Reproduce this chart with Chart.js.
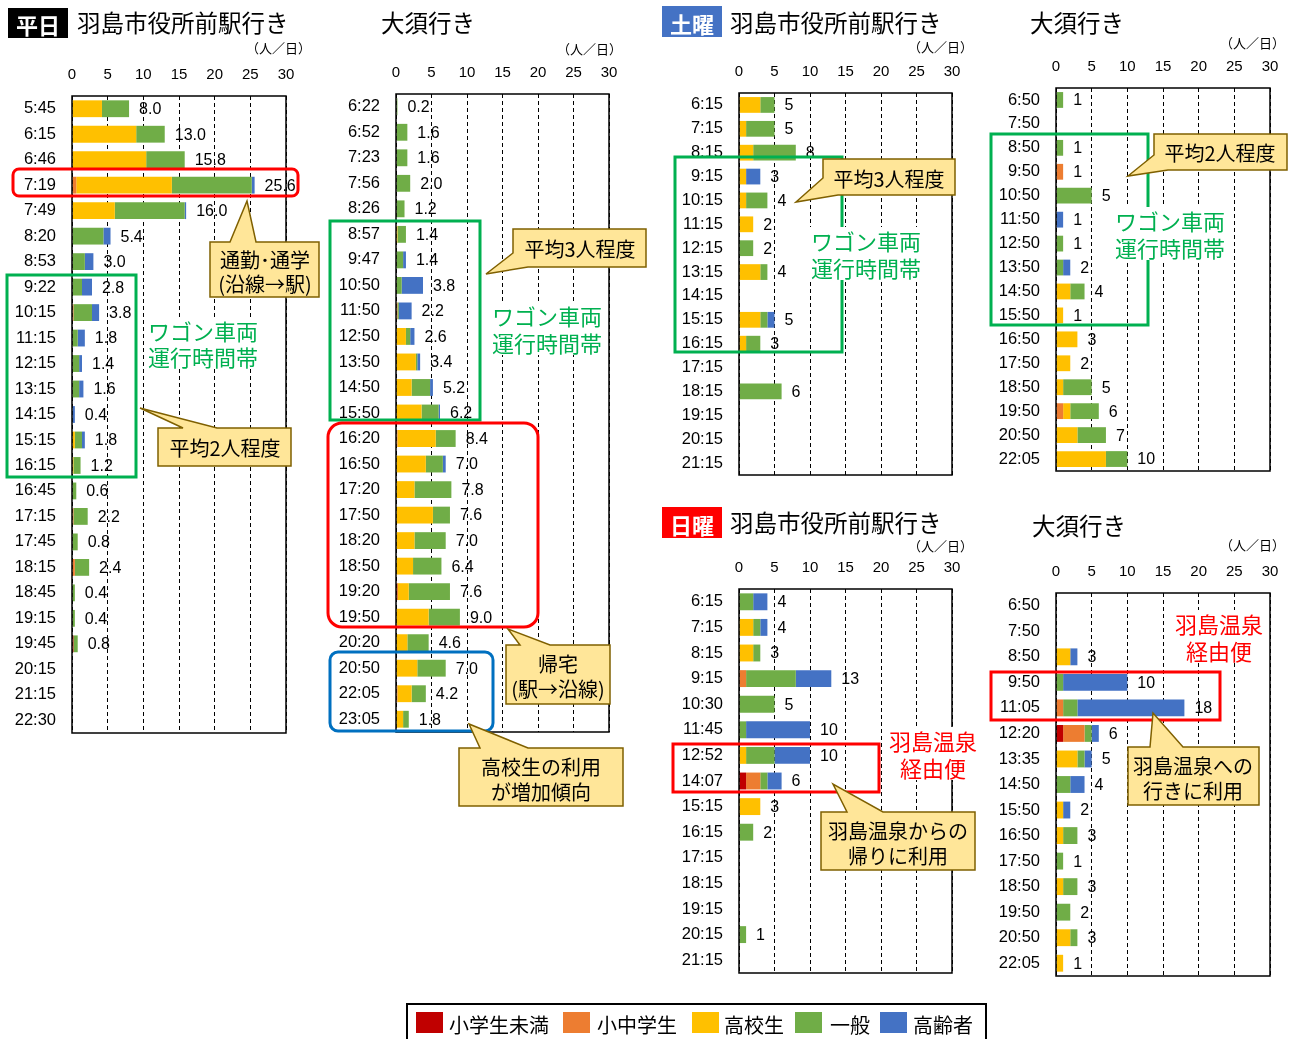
<!DOCTYPE html>
<html><head><meta charset="utf-8">
<script src="https://cdn.jsdelivr.net/npm/chart.js@4.4.1/dist/chart.umd.min.js"></script>
<style>
html,body{margin:0;padding:0;background:#fff;}
body{width:1293px;height:1039px;position:relative;overflow:hidden;font-family:'Noto Sans CJK JP',sans-serif;}
.cw{position:absolute;}
#ov{position:absolute;left:0;top:0;z-index:5;}
</style></head><body>
<svg id="ov" width="1293" height="1039" xmlns="http://www.w3.org/2000/svg"></svg>
<script>
// ---------------- DATA ----------------
const seriesNames = ['小学生未満','小中学生','高校生','一般','高齢者'];
const xTicks = [0,5,10,15,20,25,30];

// 平日 羽島市役所前駅行き
const wkHashimaLabels = ['5:45','6:15','6:46','7:19','7:49','8:20','8:53','9:22','10:15','11:15','12:15','13:15','14:15','15:15','16:15','16:45','17:15','17:45','18:15','18:45','19:15','19:45','20:15','21:15','22:30'];
const wkHashimaU6   = [0,0,0,0,0,0,0,0,0,0,0,0,0,0,0,0,0,0,0,0,0,0.2,0,0,0];
const wkHashimaStu  = [0,0,0,0.6,0,0,0,0,0.2,0,0,0,0,0,0,0,0.2,0,0.4,0,0,0,0,0,0];
const wkHashimaHigh = [4.2,9.0,10.4,13.4,6.0,0,0,0,0,0,0,0,0,0.4,0.2,0,0,0,0,0,0,0,0,0,0];
const wkHashimaGen  = [3.8,4.0,5.4,11.2,9.8,4.4,1.8,1.4,2.6,0.8,1.0,1.0,0,1.0,1.0,0.6,2.0,0.8,2.0,0.4,0.4,0.6,0,0,0];
const wkHashimaSen  = [0,0,0,0.4,0.2,1.0,1.2,1.4,1.0,1.0,0.4,0.6,0.4,0.4,0,0,0,0,0,0,0,0,0,0,0];

// 平日 大須行き
const wkOsuLabels = ['6:22','6:52','7:23','7:56','8:26','8:57','9:47','10:50','11:50','12:50','13:50','14:50','15:50','16:20','16:50','17:20','17:50','18:20','18:50','19:20','19:50','20:20','20:50','22:05','23:05'];
const wkOsuU6   = [0,0,0,0,0,0,0,0,0,0,0,0,0,0,0,0,0,0,0,0.2,0,0,0,0,0];
const wkOsuStu  = [0,0,0,0,0,0,0,0,0.2,0,0,0,0,0.2,0,0,0,0,0,0,0,0,0,0.2,0];
const wkOsuHigh = [0,0,0,0,0,0.2,0,0,0,1.4,2.8,2.2,3.6,5.4,4.2,2.6,5.2,2.6,2.4,1.6,4.6,1.6,3.0,2.0,1.0];
const wkOsuGen  = [0.2,1.6,1.6,2.0,1.2,1.2,1.0,0.8,0.2,0.6,0.2,2.6,2.4,2.8,2.4,5.2,2.4,4.4,4.0,5.8,4.4,3.0,4.0,2.0,0.8];
const wkOsuSen  = [0,0,0,0,0,0,0.4,3.0,1.8,0.6,0.4,0.4,0.2,0,0.4,0,0,0,0,0,0,0,0,0,0];

// 土曜 羽島市役所前駅行き
const satHashimaLabels = ['6:15','7:15','8:15','9:15','10:15','11:15','12:15','13:15','14:15','15:15','16:15','17:15','18:15','19:15','20:15','21:15'];
const satHashimaU6   = [0,0,0,0,0,0,0,0,0,0,0,0,0,0,0,0];
const satHashimaStu  = [0,0,0,0,0,0,0,0,0,0,0,0,0,0,0,0];
const satHashimaHigh = [3,1,2,1,1,2,0,3,0,3,1,0,0,0,0,0];
const satHashimaGen  = [2,4,6,0,3,0,2,1,0,1,2,0,6,0,0,0];
const satHashimaSen  = [0,0,0,2,0,0,0,0,0,1,0,0,0,0,0,0];

// 土曜 大須行き
const satOsuLabels = ['6:50','7:50','8:50','9:50','10:50','11:50','12:50','13:50','14:50','15:50','16:50','17:50','18:50','19:50','20:50','22:05'];
const satOsuU6   = [0,0,0,0,0,0,0,0,0,0,0,0,0,0,0,0];
const satOsuStu  = [0,0,0,1,0,0,0,0,0,0,0,0,0,1,0,0];
const satOsuHigh = [0,0,0,0,0,0,0,0,2,1,3,2,1,1,3,7];
const satOsuGen  = [1,0,1,0,5,0,1,1,2,0,0,0,4,4,4,3];
const satOsuSen  = [0,0,0,0,0,1,0,1,0,0,0,0,0,0,0,0];

// 日曜 羽島市役所前駅行き
const sunHashimaLabels = ['6:15','7:15','8:15','9:15','10:30','11:45','12:52','14:07','15:15','16:15','17:15','18:15','19:15','20:15','21:15'];
const sunHashimaU6   = [0,0,0,0,0,0,0,1,0,0,0,0,0,0,0];
const sunHashimaStu  = [0,0,0,1,0,0,0,2,0,0,0,0,0,0,0];
const sunHashimaHigh = [0,2,2,0,0,0,1,0,3,0,0,0,0,0,0];
const sunHashimaGen  = [2,1,1,7,5,1,4,1,0,2,0,0,0,1,0];
const sunHashimaSen  = [2,1,0,5,0,9,5,2,0,0,0,0,0,0,0];

// 日曜 大須行き
const sunOsuLabels = ['6:50','7:50','8:50','9:50','11:05','12:20','13:35','14:50','15:50','16:50','17:50','18:50','19:50','20:50','22:05'];
const sunOsuU6   = [0,0,0,0,0,1,0,0,0,0,0,0,0,0,0];
const sunOsuStu  = [0,0,0,0,1,3,0,0,0,0,0,0,0,0,0];
const sunOsuHigh = [0,0,2,0,0,0,3,0,1,1,0,1,0,2,1];
const sunOsuGen  = [0,0,0,1,2,1,1,2,0,2,1,2,2,1,0];
const sunOsuSen  = [0,0,1,9,15,1,1,2,1,0,0,0,0,0,0];

// ---------------- STYLE ----------------
const colors = ['#C00000','#ED7D31','#FFC000','#70AD47','#4472C4'];
const FONT = "'Liberation Sans','Noto Sans CJK JP',sans-serif";
const JP = "'Noto Sans CJK JP',sans-serif";

function labelFramePlugin(dec){
  return {
    id:'lblframe',
    afterDatasetsDraw(chart){
      const ctx = chart.ctx, xs = chart.scales.x, ys = chart.scales.y;
      ctx.save();
      ctx.font = '16px ' + FONT; ctx.fillStyle = '#000';
      ctx.textBaseline = 'middle'; ctx.textAlign = 'left';
      chart.data.labels.forEach((lab, i) => {
        let t = 0;
        chart.data.datasets.forEach(d => { t += d.data[i] || 0; });
        if (t > 0.0001) ctx.fillText(t.toFixed(dec), xs.getPixelForValue(t) + 10, ys.getPixelForValue(i) + 1);
      });
      const a = chart.chartArea;
      ctx.lineWidth = 1.5; ctx.strokeStyle = '#000';
      ctx.strokeRect(a.left, a.top, a.right - a.left, a.bottom - a.top);
      ctx.restore();
    }
  };
}

function makeChart(box, labels, series, dec){
  const pad = {l:80, r:50, t:45, b:6};
  const w = box.R - box.L + pad.l + pad.r;
  const h = box.B - box.T + pad.t + pad.b;
  const div = document.createElement('div'); div.className = 'cw';
  div.style.left = (box.L - pad.l) + 'px'; div.style.top = (box.T - pad.t) + 'px';
  div.style.width = w + 'px'; div.style.height = h + 'px';
  const c = document.createElement('canvas');
  c.width = w; c.height = h; c.style.width = w + 'px'; c.style.height = h + 'px';
  div.appendChild(c); document.body.insertBefore(div, document.getElementById('ov'));
  new Chart(c, {
    type:'bar',
    data:{labels:labels, datasets: series.map((s,i)=>({label:seriesNames[i], data:s, backgroundColor:colors[i], borderWidth:0, barPercentage:0.66, categoryPercentage:1}))},
    options:{
      indexAxis:'y', responsive:false, animation:false, devicePixelRatio:1,
      layout:{padding:{left:0, right:pad.r, top:0, bottom:pad.b}},
      plugins:{legend:{display:false}, tooltip:{enabled:false}},
      scales:{
        x:{position:'top', stacked:true, min:xTicks[0], max:xTicks[xTicks.length-1],
           afterBuildTicks(s){ s.ticks = xTicks.map(v=>({value:v})); },
           ticks:{padding:12, color:'#000', font:{size:15, family:FONT}, maxRotation:0, autoSkip:false},
           grid:{color:'#000', lineWidth:1, drawTicks:false},
           border:{display:false, dash:[4,3]},
           afterFit(s){ s.height = pad.t; s.paddingLeft = 0; s.paddingRight = 0; }},
        y:{stacked:true,
           ticks:{autoSkip:false, padding:16, color:'#000', font:{size:16.5, family:FONT}},
           grid:{display:false, drawTicks:false}, border:{display:false},
           afterFit(s){ s.width = pad.l; s.paddingTop = 0; s.paddingBottom = 0; }}
      }
    },
    plugins:[labelFramePlugin(dec)]
  });
}

makeChart({L:72,R:286,T:96,B:733}, wkHashimaLabels, [wkHashimaU6,wkHashimaStu,wkHashimaHigh,wkHashimaGen,wkHashimaSen], 1);
makeChart({L:396,R:609,T:94,B:732}, wkOsuLabels, [wkOsuU6,wkOsuStu,wkOsuHigh,wkOsuGen,wkOsuSen], 1);
makeChart({L:739,R:952,T:93,B:475}, satHashimaLabels, [satHashimaU6,satHashimaStu,satHashimaHigh,satHashimaGen,satHashimaSen], 0);
makeChart({L:1056,R:1270,T:88,B:471}, satOsuLabels, [satOsuU6,satOsuStu,satOsuHigh,satOsuGen,satOsuSen], 0);
makeChart({L:739,R:952,T:589,B:973}, sunHashimaLabels, [sunHashimaU6,sunHashimaStu,sunHashimaHigh,sunHashimaGen,sunHashimaSen], 0);
makeChart({L:1056,R:1270,T:593,B:976}, sunOsuLabels, [sunOsuU6,sunOsuStu,sunOsuHigh,sunOsuGen,sunOsuSen], 0);

// ---------------- ANNOTATIONS (SVG) ----------------
const svg = document.getElementById('ov');
const NS = 'http://www.w3.org/2000/svg';
function el(tag, attrs, txt){
  const e = document.createElementNS(NS, tag);
  for (const k in attrs) e.setAttribute(k, attrs[k]);
  if (txt !== undefined) e.textContent = txt;
  svg.appendChild(e); return e;
}
function text(str, x, y, size, opts){
  opts = opts || {};
  return el('text', {x:x, y:y, 'font-size':size, 'font-family':opts.family||JP, fill:opts.fill||'#000',
    'text-anchor':opts.anchor||'start', 'dominant-baseline':'central', 'font-weight':opts.weight||'normal'}, str);
}
// badges
[[8,8,60,30,'#000','平日'],[662,6,60,31,'#4472C4','土曜'],[662,507,60,31,'#FF0000','日曜']].forEach(b=>{
  el('rect',{x:b[0],y:b[1],width:b[2],height:b[3],fill:b[4]});
  text(b[5], b[0]+b[2]/2, b[1]+b[3]/2+1, 22, {fill:'#fff', anchor:'middle', weight:'bold'});
});
// titles
[['羽島市役所前駅行き',77,22],['大須行き',381,22],['羽島市役所前駅行き',730,22],['大須行き',1030,22],['羽島市役所前駅行き',730,522],['大須行き',1032,525]]
  .forEach(t=>text(t[0], t[1], t[2], 23.5));
// units
[[311,47],[622,48],[973,46],[1285,42],[973,545],[1285,544]].forEach(u=>text('（人／日）', u[0], u[1], 13, {anchor:'end'}));

// frames
function frame(x1,y1,x2,y2,color,r){ el('rect',{x:x1,y:y1,width:x2-x1,height:y2-y1,rx:r||0,ry:r||0,fill:'none',stroke:color,'stroke-width':3}); }
frame(7,275,136,477,'#00B050');
frame(330,221,480,420,'#00B050');
frame(13,169,298,196,'#FF0000',6);
frame(328,423,538,627,'#FF0000',14);
frame(330,652,493,731,'#0070C0',8);
frame(675,157,842,352,'#00B050');
frame(991,134,1148,325,'#00B050');
frame(673,744,879,792,'#FF0000');
frame(991,672,1220,720,'#FF0000');

// texts with white background
function bgText(lines, x, y0, dy, size, color, anchor){
  const w = Math.max(...lines.map(l=>l.length))*size + 4;
  const left = anchor==='middle' ? x - w/2 : x - 2;
  el('rect',{x:left, y:y0 - size/2 - 2, width:w, height:dy*(lines.length-1)+size+4, fill:'#fff'});
  lines.forEach((l,i)=>text(l, x, y0+i*dy, size, {fill:color, anchor:anchor||'start'}));
}
bgText(['ワゴン車両','運行時間帯'],148,330,26,22,'#00B050');
bgText(['ワゴン車両','運行時間帯'],492,315,27,22,'#00B050');
bgText(['ワゴン車両','運行時間帯'],811,240,27,22,'#00B050');
bgText(['ワゴン車両','運行時間帯'],1115,220,27,22,'#00B050');
bgText(['羽島温泉','経由便'],933,740,27,22,'#FF0000','middle');
bgText(['羽島温泉','経由便'],1219,623,27,22,'#FF0000','middle');

// callouts
function callout(pts, lines, cx, y0, dy){
  el('polygon',{points:pts.map(p=>p.join(',')).join(' '), fill:'#FFE699', stroke:'#7F6000','stroke-width':1.5,'stroke-linejoin':'miter'});
  lines.forEach((l,i)=>text(l, cx, y0+i*dy, 20, {anchor:'middle'}));
}
callout([[210,242],[230,242],[247,201],[256,242],[319,242],[319,297],[210,297]], ['通勤･通学','(沿線→駅)'], 265, 259, 24);
callout([[158,428],[183,428],[140,408],[217,428],[291,428],[291,466],[158,466]], ['平均2人程度'], 225, 447, 0);
callout([[513,229],[646,229],[646,267],[528,267],[486,274],[513,253]], ['平均3人程度'], 580, 248, 0);
callout([[506,645],[520,645],[508,629],[550,645],[610,645],[610,704],[506,704]], ['帰宅','(駅→沿線)'], 558, 663, 25);
callout([[459,748],[480,748],[469,724],[528,748],[623,748],[623,806],[459,806]], ['高校生の利用','が増加傾向'], 541, 766, 25);
callout([[823,159],[955,159],[955,195],[838,195],[796,202],[823,178]], ['平均3人程度'], 889, 178, 0);
callout([[1154,134],[1287,134],[1287,170],[1168,170],[1128,176],[1154,155]], ['平均2人程度'], 1220, 152, 0);
callout([[821,812],[847,812],[833,784],[883,812],[975,812],[975,870],[821,870]], ['羽島温泉からの','帰りに利用'], 898, 830, 25);
callout([[1128,747],[1150,747],[1153,713],[1183,747],[1259,747],[1259,805],[1128,805]], ['羽島温泉への','行きに利用'], 1193, 765, 25);

// legend
el('rect',{x:407,y:1004,width:579,height:42,fill:'#fff',stroke:'#000','stroke-width':2});
[[416,449],[563,597],[692,724],[795,830],[880,913]].forEach((p,i)=>{
  el('rect',{x:p[0],y:1012,width:27,height:21,fill:colors[i]});
  text(seriesNames[i], p[1], 1024, 20);
});
</script>
</body></html>
